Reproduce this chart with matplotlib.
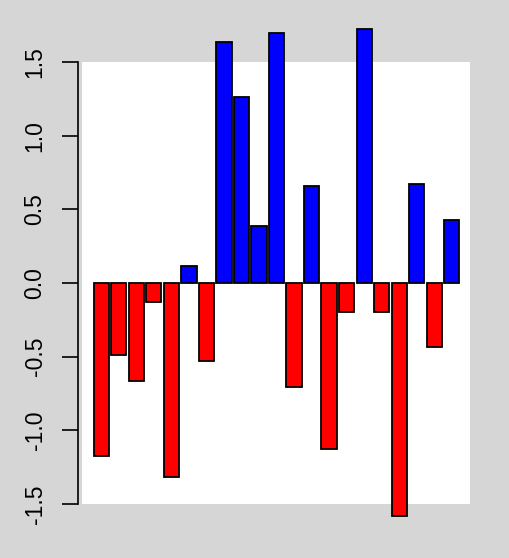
import numpy as np
import matplotlib
matplotlib.use("Agg")
import matplotlib.pyplot as plt

values = [-1.177, -0.49, -0.665, -0.127, -1.317, 0.115, -0.527,
          1.633, 1.26, 0.384, 1.70, -0.706, 0.659, -1.127,
          -0.195, 1.724, -0.20, -1.584, 0.674, -0.435, 0.425]
yticks = [-1.5, -1.0, -0.5, 0.0, 0.5, 1.0, 1.5]
ytick_labels = ["-1.5", "-1.0", "-0.5", "0.0", "0.5", "1.0", "1.5"]


def plot_bars(values):
    W, H = 509, 558
    fig = plt.figure(figsize=(W / 100, H / 100), dpi=100)
    fig.patch.set_facecolor("#d6d6d6")
    ax = fig.add_axes([82 / W, (H - 504) / H, (470 - 82) / W, (504 - 62) / H])
    ax.set_facecolor("white")

    x = np.arange(len(values))
    colors = ["blue" if v > 0 else "red" for v in values]
    bars = ax.bar(x, values, width=0.87, color=colors, edgecolor="black", linewidth=1.3)
    for b in bars:
        b.set_clip_on(False)

    ax.set_xlim(-1.10, len(values) - 1 + 1.04)
    ax.set_ylim(-1.5, 1.5)

    for s in ["top", "right", "bottom"]:
        ax.spines[s].set_visible(False)
    ax.spines["left"].set_position(("outward", 3))
    ax.spines["left"].set_bounds(-1.5, 1.5)
    ax.spines["left"].set_linewidth(1.2)
    ax.set_xticks([])
    ax.set_yticks(yticks)
    ax.set_yticklabels(ytick_labels, rotation=90, va="center",
                       fontsize=16.5, family="Liberation Sans")
    ax.tick_params(axis="y", length=11.5, width=1.2, pad=11)

    fig.savefig("out.png", dpi=100, facecolor=fig.get_facecolor())


def main():
    plot_bars(values)


if __name__ == "__main__":
    main()
